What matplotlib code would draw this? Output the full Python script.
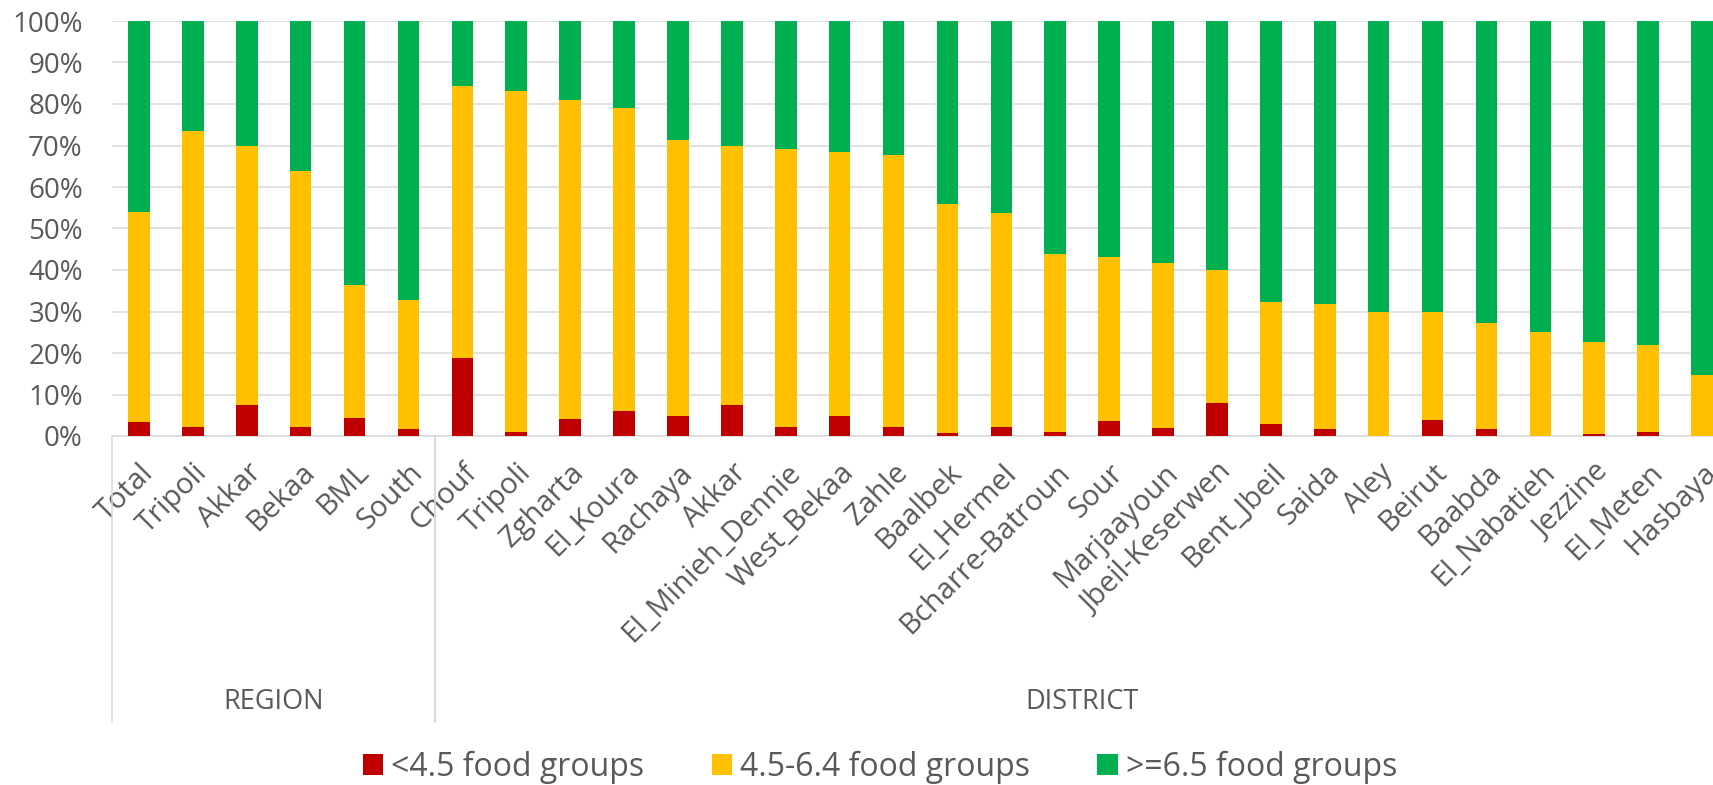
import matplotlib
matplotlib.use("Agg")
import matplotlib.pyplot as plt
import matplotlib.transforms as mtransforms
import numpy as np

plt.rcParams['font.family'] = ['Open Sans', 'DejaVu Sans']

# percentages of households by number of food groups consumed
labels = ["Total", "Tripoli", "Akkar", "Bekaa", "BML", "South",
          "Chouf", "Tripoli", "Zgharta", "El_Koura", "Rachaya", "Akkar",
          "El_Minieh_Dennie", "West_Bekaa", "Zahle", "Baalbek", "El_Hermel",
          "Bcharre-Batroun", "Sour", "Marjaayoun", "Jbeil-Keserwen",
          "Bent_Jbeil", "Saida", "Aley", "Beirut", "Baabda", "El_Nabatieh",
          "Jezzine", "El_Meten", "Hasbaya"]
low = [3.4, 2.1, 7.4, 2.2, 4.4, 1.7,
       18.9, 1.0, 4.0, 6.1, 4.8, 7.4, 2.1, 4.8, 2.2, 0.8, 2.2, 1.0, 3.6,
       2.0, 7.9, 3.0, 1.6, 0.0, 3.9, 1.6, 0.0, 0.4, 1.0, 0.0]
mid = [50.6, 71.4, 62.5, 61.6, 32.1, 31.1,
       65.5, 82.1, 77.0, 73.0, 66.5, 62.5, 67.0, 63.6, 65.4, 55.0, 51.5,
       42.9, 39.6, 39.6, 32.0, 29.2, 30.3, 30.0, 26.0, 25.6, 25.0, 22.3,
       20.9, 14.8]
high = [46.0, 26.5, 30.1, 36.2, 63.5, 67.2,
        15.6, 16.9, 19.0, 20.9, 28.7, 30.1, 30.9, 31.6, 32.4, 44.2, 46.3,
        56.1, 56.8, 58.4, 60.1, 67.8, 68.1, 70.0, 70.1, 72.8, 75.0, 77.3,
        78.1, 85.2]
groups = [("REGION", 0, 6), ("DISTRICT", 6, 30)]

series_names = ["<4.5 food groups", "4.5-6.4 food groups", ">=6.5 food groups"]
colors = ["#C00000", "#FFC000", "#00B050"]
text_color = "#595959"
grid_color = "#D9D9D9"

W, H = 1713, 785
fig = plt.figure(figsize=(W / 100, H / 100), dpi=100)
ax = fig.add_axes([112 / W, 1 - 436 / H, 1617 / W, 415 / H])

x = np.arange(len(labels))
bottom = np.zeros(len(labels))
for vals, name, c in zip([low, mid, high], series_names, colors):
    ax.bar(x, vals, width=0.4, bottom=bottom, color=c, label=name, zorder=3)
    bottom += np.array(vals)

ax.set_xlim(-0.5, len(labels) - 0.5)
ax.set_ylim(0, 100)
ax.set_yticks(np.arange(0, 101, 10))
ax.set_yticklabels([f"{v}%" for v in range(0, 101, 10)])
ax.grid(axis="y", color=grid_color, linewidth=1.1, zorder=0)
for s in ["top", "right", "left"]:
    ax.spines[s].set_visible(False)
ax.spines["bottom"].set_color(grid_color)
ax.spines["bottom"].set_linewidth(1.1)
ax.tick_params(axis="y", length=0, pad=21, labelsize=20, labelcolor=text_color)
ax.tick_params(axis="x", length=0, pad=16, labelsize=21, labelcolor=text_color)
ax.set_xticks(x)
ax.set_xticklabels(labels, rotation=45, ha="right", rotation_mode="anchor")

# group separators and group names below the category labels
trans = mtransforms.blended_transform_factory(ax.transData, ax.transAxes)
for name, start, end in groups:
    for xe in (start - 0.5, end - 0.5):
        ax.plot([xe, xe], [0, -0.689], transform=trans, color=grid_color,
                linewidth=1.1, clip_on=False)
    ax.text((start + end - 1) / 2, -0.641, name, transform=trans,
            ha="center", va="center", fontsize=19.5, color=text_color)

fig.legend(loc="center", bbox_to_anchor=(880 / W, 1 - 767 / H), ncol=3,
           frameon=False, fontsize=23, labelcolor=text_color,
           handlelength=0.65, handleheight=0.65, handletextpad=0.25,
           columnspacing=2.1)

fig.savefig("out.png", dpi=100)
